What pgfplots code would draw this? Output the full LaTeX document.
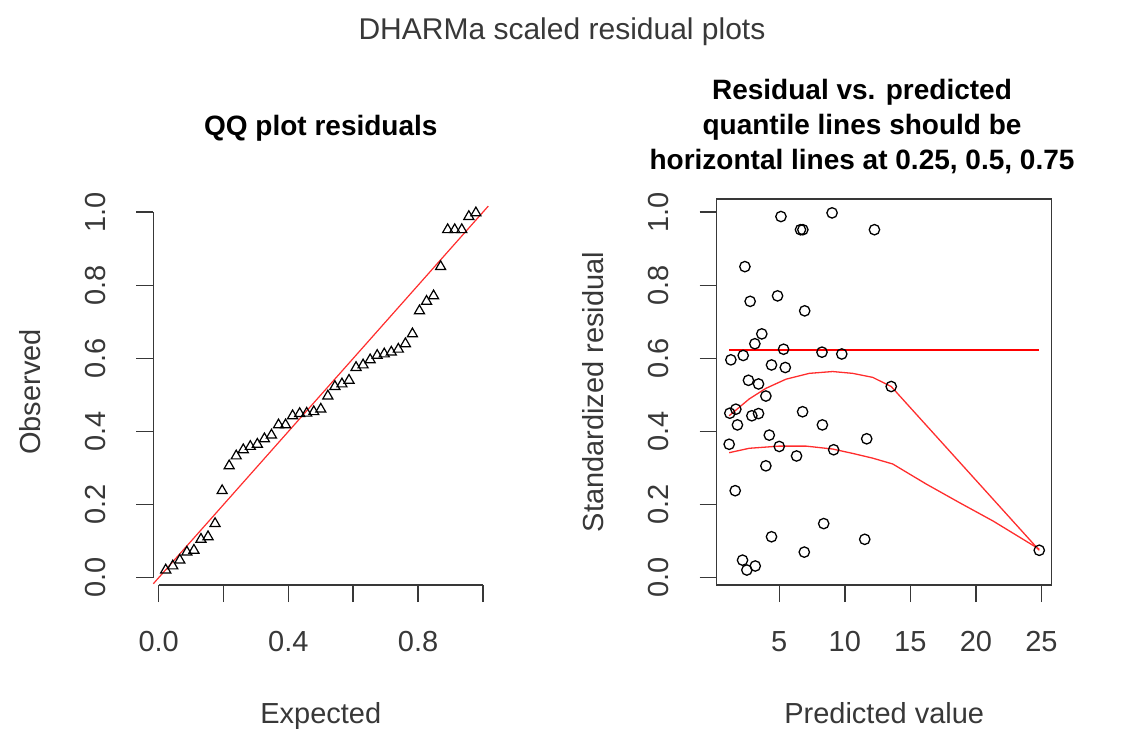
\documentclass[border=0pt]{standalone}
\usepackage{fontspec}
\setmainfont{Liberation Sans}
\usepackage{pgfplots}
\pgfplotsset{compat=1.18}
\newcommand{\tkf}{\fontsize{29}{34}\selectfont}
\newcommand{\ttf}{\fontsize{28}{34}\selectfont\bfseries}
\definecolor{txt}{gray}{0.22}
\definecolor{rline}{RGB}{255,45,45}
\pgfplotsset{
  rstyle/.style={
    scale only axis, width=335pt, height=386pt,
    ymin=-0.02, ymax=1.036,
    ytick={0,0.2,0.4,0.6,0.8,1},
    yticklabels={0.0,0.2,0.4,0.6,0.8,1.0},
    tick align=outside, xtick pos=left, ytick pos=left,
    major tick length=17pt,
    tick style={line width=1.5pt, color=txt},
    /pgf/number format/assume math mode=true,
    tick label style={font=\tkf, text=txt},
    yticklabel style={xshift=-27pt, rotate=90, anchor=south},
    xticklabel style={yshift=-26pt, anchor=north},
    label style={font=\tkf, text=txt},
    xlabel style={at={(axis description cs:0.5,-0.36)}, anchor=base},
    ylabel style={at={(axis description cs:-0.337,0.5)}, anchor=base, rotate=0},
  }
}
\begin{document}
\begin{tikzpicture}
\path[use as bounding box] (0pt,0pt) rectangle (1121pt,729pt);
% ---------------- QQ plot ----------------
\begin{axis}[rstyle,
  at={(153.3pt,144pt)}, anchor=south west,
  xmin=-0.0166, xmax=1.0166,
  xtick={0,0.2,0.4,0.6,0.8,1},
  xticklabels={0.0,{},0.4,{},0.8,{}},
  axis line style={draw=none},
  clip=false,
  xlabel={Expected}, ylabel={Observed},
]
\draw[txt, line width=1.5pt] (axis cs:0,-0.02) -- (axis cs:1,-0.02);
\draw[txt, line width=1.5pt] (axis cs:-0.0166,0) -- (axis cs:-0.0166,1);
\addplot[rline, line width=1.2pt] coordinates {(-0.0166,-0.0166) (1.0166,1.0166)};
\addplot[only marks, mark=triangle, mark size=5.8pt, mark options={black, line width=1.2pt}] table {
x y
0.0217 0.021
0.0435 0.032
0.0652 0.048
0.0870 0.070
0.1087 0.075
0.1304 0.105
0.1522 0.112
0.1739 0.148
0.1957 0.238
0.2174 0.306
0.2391 0.333
0.2609 0.350
0.2826 0.359
0.3043 0.365
0.3261 0.380
0.3478 0.390
0.3696 0.418
0.3913 0.418
0.4130 0.443
0.4348 0.449
0.4565 0.450
0.4783 0.454
0.5000 0.461
0.5217 0.497
0.5435 0.523
0.5652 0.530
0.5870 0.540
0.6087 0.575
0.6304 0.582
0.6522 0.596
0.6739 0.608
0.6957 0.612
0.7174 0.617
0.7391 0.625
0.7609 0.640
0.7826 0.667
0.8043 0.730
0.8261 0.756
0.8478 0.771
0.8696 0.851
0.8913 0.952
0.9130 0.952
0.9348 0.952
0.9565 0.988
0.9783 0.998
};
\end{axis}
% ---------------- Residual vs predicted ----------------
\begin{axis}[rstyle,
  at={(716.7pt,144pt)}, anchor=south west,
  xmin=0.23, xmax=25.78,
  xtick={5,10,15,20,25},
  axis line style={txt, line width=1.5pt},
  xlabel={Predicted value}, ylabel={Standardized residual},
]
\addplot[only marks, mark=o, mark size=5.2pt, mark options={black, line width=1.3pt}] table {
x y
5.13 0.988
9.03 0.998
6.62 0.952
6.80 0.952
12.26 0.952
2.38 0.851
2.78 0.756
4.87 0.771
6.94 0.730
3.67 0.667
3.14 0.640
5.33 0.625
8.26 0.617
9.77 0.612
1.31 0.596
2.25 0.608
4.41 0.582
5.46 0.575
2.65 0.540
3.42 0.530
3.98 0.497
13.54 0.523
1.69 0.461
1.23 0.450
2.91 0.443
3.42 0.449
6.78 0.454
1.81 0.418
8.29 0.418
4.24 0.390
1.18 0.365
5.00 0.359
9.15 0.350
11.67 0.380
6.32 0.333
3.98 0.306
1.64 0.238
8.39 0.148
4.41 0.112
11.52 0.105
6.91 0.070
2.20 0.048
2.53 0.021
3.17 0.032
24.83 0.075
};
\addplot[red, line width=1.3pt] coordinates {(1.18,0.623) (24.83,0.623)};
\addplot[rline, line width=1.3pt] coordinates {
(1.18,0.443) (2.71,0.489) (3.98,0.518) (5.51,0.543) (7.29,0.559) (9.07,0.564)
(10.6,0.559) (12.13,0.548) (13.54,0.523) (24.83,0.075)};
\addplot[rline, line width=1.3pt] coordinates {
(1.18,0.342) (2.71,0.354) (5.0,0.360) (7.04,0.360) (9.07,0.352) (10.6,0.340)
(12.13,0.327) (13.66,0.311) (16.22,0.256) (18.76,0.205) (21.31,0.155)
(24.83,0.078)};
\end{axis}
% ---------------- Titles ----------------
\node[anchor=base, font=\fontsize{30}{36}\selectfont, text=txt] at (562pt,689.7pt) {DHARMa scaled residual plots};
\node[anchor=base, font=\ttf] at (320.8pt,593pt) {QQ plot residuals};
\node[anchor=base, font=\ttf] at (862pt,629.7pt) {Residual vs. predicted};
\node[anchor=base, font=\ttf] at (862pt,594pt) {quantile lines should be};
\node[anchor=base, font=\ttf] at (862pt,559pt) {horizontal lines at 0.25, 0.5, 0.75};
\end{tikzpicture}
\end{document}
